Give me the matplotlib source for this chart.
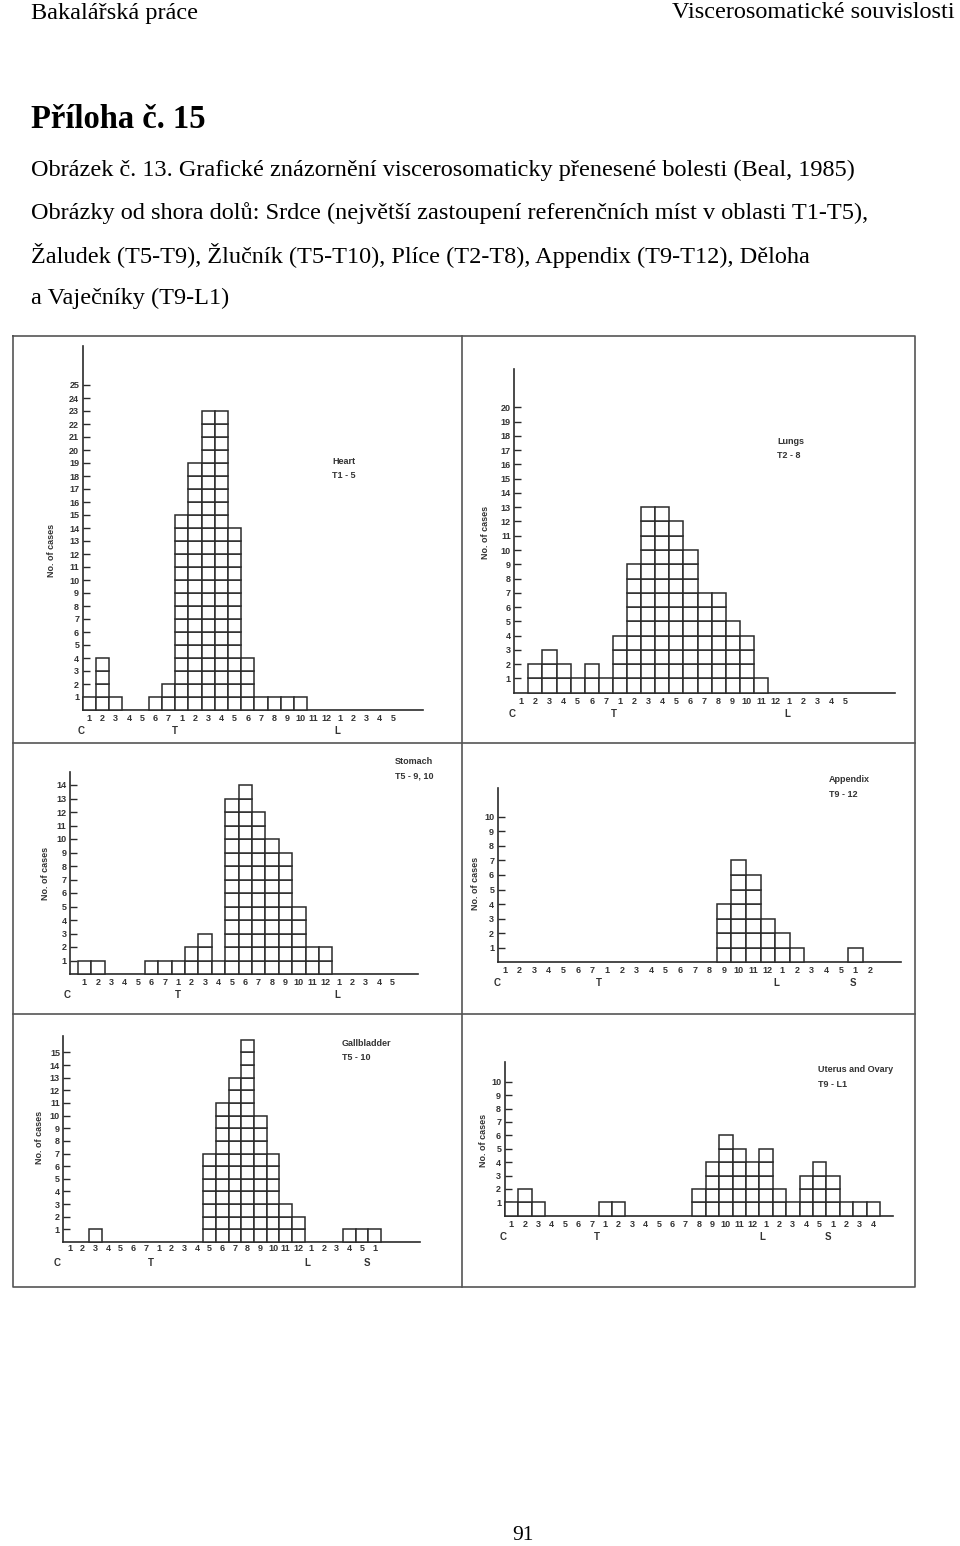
import matplotlib
matplotlib.use("Agg")
import matplotlib.pyplot as plt
import numpy as np

# ---------------- data ----------------
cervical_labels = ["1", "2", "3", "4", "5", "6", "7"]
thoracic_labels = ["1", "2", "3", "4", "5", "6", "7", "8", "9", "10", "11", "12"]
lumbar_labels = ["1", "2", "3", "4", "5"]

heart_cervical = [1, 4, 1, 0, 0, 1, 2]
heart_thoracic = [15, 19, 23, 23, 14, 4, 1, 1, 1, 1, 0, 0]
heart_lumbar = [0, 0, 0, 0, 0]

lungs_cervical = [0, 2, 3, 2, 1, 2, 1]
lungs_thoracic = [4, 9, 13, 13, 12, 10, 7, 7, 5, 4, 1, 0]
lungs_lumbar = [0, 0, 0, 0, 0]

stomach_cervical = [1, 1, 0, 0, 0, 1, 1]
stomach_thoracic = [1, 2, 3, 1, 13, 14, 12, 10, 9, 5, 2, 2]
stomach_lumbar = [0, 0, 0, 0, 0]

appendix_cervical = [0, 0, 0, 0, 0, 0, 0]
appendix_thoracic = [0, 0, 0, 0, 0, 0, 0, 0, 4, 7, 6, 3]
appendix_lumbar = [2, 1, 0, 0, 0]
appendix_sacral = [1, 0]
appendix_sacral_labels = ["1", "2"]

gall_cervical = [0, 0, 1, 0, 0, 0, 0]
gall_thoracic = [0, 0, 0, 0, 7, 11, 13, 16, 10, 7, 3, 2]
gall_lumbar = [0, 0, 0, 1, 1]
gall_sacral = [1]
gall_sacral_labels = ["1"]

uterus_cervical = [1, 2, 1, 0, 0, 0, 0]
uterus_thoracic = [1, 1, 0, 0, 0, 0, 0, 2, 4, 6, 5, 4]
uterus_lumbar = [5, 2, 1, 3, 4]
uterus_sacral = [3, 1, 1, 1]
uterus_sacral_labels = ["1", "2", "3", "4"]

heart_title = ["Heart", "T1 - 5"]
lungs_title = ["Lungs", "T2 - 8"]
stomach_title = ["Stomach", "T5 - 9, 10"]
appendix_title = ["Appendix", "T9 - 12"]
gall_title = ["Gallbladder", "T5 - 10"]
uterus_title = ["Uterus and Ovary", "T9 - L1"]

heart_ymax, lungs_ymax, stomach_ymax = 25, 20, 14
appendix_ymax, gall_ymax, uterus_ymax = 10, 15, 10

# ---------------- figure ----------------
W, H, DPI = 960, 1546, 100
fig = plt.figure(figsize=(W / DPI, H / DPI), dpi=DPI)
bg = fig.add_axes([0, 0, 1, 1])
bg.set_xlim(0, W)
bg.set_ylim(H, 0)
bg.axis("off")

SERIF = "Liberation Serif"
SANS = "Liberation Sans"
INK = "#2b2b2b"
TXT = "#333333"
FS_PANEL = 6.5

# page texts
bg.text(31, 13, "Bakalářská práce", family=SERIF, fontsize=17.5, va="center", ha="left")
bg.text(955, 13, "Viscerosomatické souvislosti", family=SERIF, fontsize=17.5, va="center", ha="right")
bg.text(31, 120, "Příloha č. 15", family=SERIF, fontsize=23.5, fontweight="bold", va="center", ha="left")
lines = [
    "Obrázek č. 13. Grafické znázornění viscerosomaticky přenesené bolesti (Beal, 1985)",
    "Obrázky od shora dolů: Srdce (největší zastoupení referenčních míst v oblasti T1-T5),",
    "Žaludek (T5-T9), Žlučník (T5-T10), Plíce (T2-T8), Appendix (T9-T12), Děloha",
    "a Vaječníky (T9-L1)",
]
for i, s in enumerate(lines):
    bg.text(31, 170 + i * 42.7, s, family=SERIF, fontsize=17.5, va="center", ha="left")
bg.text(523, 1535, "91", family=SERIF, fontsize=15.5, va="center", ha="center")

# frame of the scanned figure
fx0, fx1, fxm = 13, 915, 462
fy0, fy1, fy2, fy3 = 336, 743, 1014, 1287
frame_kw = dict(color="#555555", lw=1.2)
bg.plot([fx0, fx1, fx1, fx0, fx0], [fy0, fy0, fy3, fy3, fy0], **frame_kw)
bg.plot([fxm, fxm], [fy0, fy3], **frame_kw)
bg.plot([fx0, fx1], [fy1, fy1], **frame_kw)
bg.plot([fx0, fx1], [fy2, fy2], **frame_kw)


def panel(box, x0, cw, y0, ch, counts, labels, groups, ymax, yaxis_x,
          xend, ytop, title, title_xy, ylabel_xy, lab_pad=3.0):
    L, R, T, B = box
    ax = fig.add_axes([L / W, 1 - B / H, (R - L) / W, (B - T) / H])
    ax.set_xlim((L - x0) / cw, (R - x0) / cw)
    ax.set_ylim((y0 - B) / ch, (y0 - T) / ch)
    ax.patch.set_alpha(0)
    counts = np.asarray(counts)
    xs = np.arange(len(counts))
    for k in range(int(counts.max())):
        m = counts > k
        ax.bar(xs[m], 1, bottom=k, width=1, align="edge", facecolor="white",
               edgecolor=INK, linewidth=1.1, zorder=3)
    for s in ("top", "right"):
        ax.spines[s].set_visible(False)
    ax.spines["left"].set_position(("data", yaxis_x))
    ax.spines["left"].set_bounds(0, ytop)
    ax.spines["bottom"].set_position(("data", 0))
    ax.spines["bottom"].set_bounds(yaxis_x, xend)
    for s in ("left", "bottom"):
        ax.spines[s].set_color(INK)
        ax.spines[s].set_linewidth(1.2)
    ax.set_yticks(np.arange(1, ymax + 1))
    ax.set_yticklabels([str(v) for v in range(1, ymax + 1)])
    ax.tick_params(axis="y", direction="in", length=5, width=1.0, color=INK,
                   pad=2.5, labelsize=FS_PANEL, labelcolor=TXT)
    ax.set_xticks(xs + 0.5)
    ax.set_xticklabels(labels)
    ax.tick_params(axis="x", length=0, pad=lab_pad, labelsize=FS_PANEL, labelcolor=TXT)
    for lab in ax.get_xticklabels() + ax.get_yticklabels():
        lab.set_fontfamily(SANS)
        lab.set_fontweight("bold")
    for letter, gx in groups:
        ax.annotate(letter, xy=(gx, 0), xytext=(0, -15), textcoords="offset points",
                    ha="center", va="center", fontsize=7, fontweight="bold",
                    family=SANS, color=TXT)
    tx, ty = title_xy
    bg.text(tx, ty, title[0], family=SANS, fontsize=FS_PANEL, fontweight="bold",
            color=TXT, ha="left", va="center")
    bg.text(tx, ty + 14.5, title[1], family=SANS, fontsize=FS_PANEL, fontweight="bold",
            color=TXT, ha="left", va="center")
    bg.text(ylabel_xy[0], ylabel_xy[1], "No. of cases", family=SANS, fontsize=FS_PANEL,
            fontweight="bold", color=TXT, rotation=90, ha="center", va="center")
    return ax


base_labels = cervical_labels + thoracic_labels + lumbar_labels

panel((fx0, fxm, fy0, fy1), 82.7, 13.2, 710, 13.0,
      heart_cervical + heart_thoracic + heart_lumbar, base_labels,
      [("C", -0.15), ("T", 7.0), ("L", 19.3)], heart_ymax, 0, 25.8, 28.0,
      heart_title, (332, 461), (52, 550))

panel((fxm, fx1, fy0, fy1), 514.2, 14.1, 692.7, 14.27,
      lungs_cervical + lungs_thoracic + lungs_lumbar, base_labels,
      [("C", -0.18), ("T", 7.08), ("L", 19.35)], lungs_ymax, 0, 27.0, 22.7,
      lungs_title, (777, 441), (485, 532))

panel((fx0, fxm, fy1, fy2), 77.7, 13.4, 974, 13.5,
      stomach_cervical + stomach_thoracic + stomach_lumbar, base_labels,
      [("C", -0.8), ("T", 7.5), ("L", 19.4)], stomach_ymax, -0.57, 25.4, 15.0,
      stomach_title, (395, 762), (45, 873))

panel((fxm, fx1, fy1, fy2), 497.7, 14.6, 962.3, 14.56,
      appendix_cervical + appendix_thoracic + appendix_lumbar + appendix_sacral,
      base_labels + appendix_sacral_labels,
      [("C", -0.05), ("T", 6.94), ("L", 19.1), ("S", 24.3)], appendix_ymax, 0, 27.6, 12.0,
      appendix_title, (829, 780), (475, 883))

panel((fx0, fxm, fy2, fy3), 63.5, 12.7, 1242, 12.64,
      gall_cervical + gall_thoracic + gall_lumbar + gall_sacral,
      base_labels + gall_sacral_labels,
      [("C", -0.54), ("T", 6.87), ("L", 19.2), ("S", 23.9)], gall_ymax, 0, 28.1, 16.3,
      gall_title, (342, 1043), (40, 1137), lab_pad=1.5)

panel((fxm, fx1, fy2, fy3), 504.7, 13.4, 1215.7, 13.4,
      uterus_cervical + uterus_thoracic + uterus_lumbar + uterus_sacral,
      base_labels + uterus_sacral_labels,
      [("C", -0.1), ("T", 6.9), ("L", 19.2), ("S", 24.1)], uterus_ymax, 0, 29.0, 11.5,
      uterus_title, (818, 1070), (483, 1140))

fig.savefig("out.png", dpi=DPI)
